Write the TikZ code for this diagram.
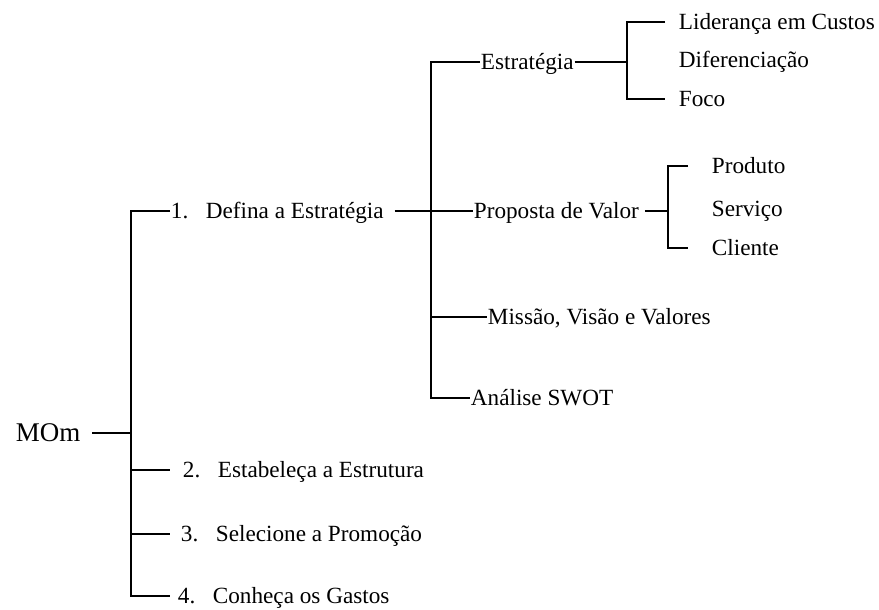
\documentclass[tikz,border=0pt]{standalone}
\usepackage{fontspec}
\setmainfont{Liberation Serif}
\newcommand{\itemnum}[1]{\makebox[17.5pt][l]{#1}}

\begin{document}
\begin{tikzpicture}[
  x=0.5pt, y=-0.5pt,
  line width=0.9pt,
  item/.style={inner sep=0pt, anchor=west, text height=8pt, text depth=0.6pt, font=\fontsize{11.6}{14}\selectfont},
  root/.style={item, text height=9.5pt, font=\fontsize{13.5}{16}\selectfont},
]
\useasboundingbox (0,0) rectangle (879,610);

% Root and first level
\node[root] (mom) at (15,433) {MOm};
\node[item] (defina) at (170,211) {\itemnum{1.}Defina a Estratégia};
\node[item] (estrutura) at (182,470) {\itemnum{2.}Estabeleça a Estrutura};
\node[item] (promocao) at (180,534) {\itemnum{3.}Selecione a Promoção};
\node[item] (gastos) at (177,596) {\itemnum{4.}Conheça os Gastos};

% Second level
\node[item] (estrategia) at (480,62) {Estratégia};
\node[item] (proposta) at (473,211) {Proposta de Valor};
\node[item] (missao) at (487,317) {Missão, Visão e Valores};
\node[item] (swot) at (470,398) {Análise SWOT};

% Leaves
\node[item] (lideranca) at (678,22) {Liderança em Custos};
\node[item] (diferenciacao) at (678,60) {Diferenciação};
\node[item] (foco) at (678,99) {Foco};
\node[item] (produto) at (711,166) {Produto};
\node[item] (servico) at (711,209) {Serviço};
\node[item] (cliente) at (711,248) {Cliente};

% Joints
\coordinate (trunk) at (131,433);
\coordinate (fork) at (431,211);
\coordinate (bestr) at (627,62);
\coordinate (bprop) at (668,211);

% Connectors
\draw[shorten <=5.5pt] (mom) -- (trunk);
\draw[shorten >=3.5pt] (defina.west) -| (trunk) |- (gastos.west);
\draw[shorten >=6pt] (trunk |- estrutura) -- (estrutura.west);
\draw[shorten >=5pt] (trunk |- promocao) -- (promocao.west);

\draw[shorten <=5pt] (defina) -- (proposta);
\draw (estrategia.west) -| (fork) |- (swot.west);
\draw (fork |- missao) -- (missao.west);

\draw (estrategia) -- (bestr);
\draw[shorten <=6.5pt, shorten >=6.5pt] (lideranca.west) -| (bestr) |- (foco.west);
\draw[shorten <=2.5pt] (proposta) -- (bprop);
\draw[shorten <=11.5pt, shorten >=11.5pt] (produto.west) -| (bprop) |- (cliente.west);

\end{tikzpicture}
\end{document}
